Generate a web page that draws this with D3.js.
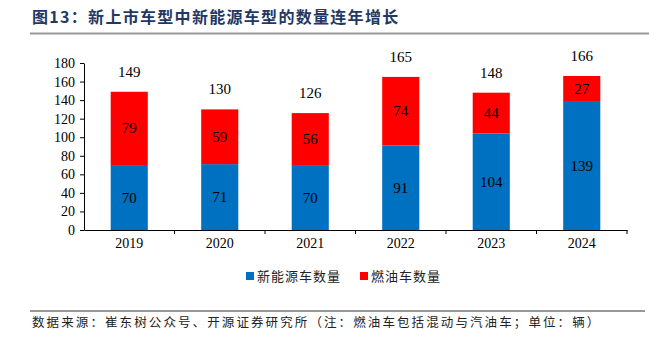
<!DOCTYPE html>
<html><head><meta charset="utf-8">
<script src="https://cdn.jsdelivr.net/npm/d3@7"></script>
<style>body{margin:0;background:#fff}</style>
</head><body><svg id="c" width="649" height="342"></svg>
<script>
const years = ["2019","2020","2021","2022","2023","2024"];
const nev = [70,71,70,91,104,139];
const ice = [79,59,56,74,44,27];
const totals = [149,130,126,165,148,166];
const yTicks = [0,20,40,60,80,100,120,140,160,180];
const seriesNames = ["新能源车数量","燃油车数量"];
const colors = ["#0070C0","#FF0000"];

const svg = d3.select("#c");
const serif = "'Liberation Serif','Times New Roman',serif";
const cjk = "'Noto Sans CJK SC',sans-serif";

// title
svg.append("text").attr("x",32).attr("y",23).attr("fill","#1F3864")
  .attr("font-family",cjk).attr("font-weight","bold").attr("font-size",16)
  .attr("letter-spacing",1.3)
  .text("图13：新上市车型中新能源车型的数量连年增长");
svg.append("line").attr("x1",30).attr("x2",649).attr("y1",33.5).attr("y2",33.5)
  .attr("stroke","#999").attr("stroke-width",2);

const x = d3.scaleBand().domain(years).range([84,627]).paddingInner(0.59).paddingOuter(0.295);
const y = d3.scaleLinear().domain([0,180]).range([230,63]);

const g = svg.append("g");
// y axis
const ya = g.append("g").attr("transform","translate(84,0)")
  .call(d3.axisLeft(y).tickValues(yTicks).tickSize(4).tickSizeOuter(0));
ya.select(".domain").attr("stroke","#000");
ya.selectAll("text").attr("font-family",serif).attr("font-size",14).attr("fill","#000").attr("dx",-2);

// bars
const stack = years.map((yr,i)=>({yr, a:nev[i], b:ice[i], t:totals[i]}));
g.selectAll(".nev").data(stack).enter().append("rect")
  .attr("x",d=>x(d.yr)).attr("width",x.bandwidth())
  .attr("y",d=>y(d.a)).attr("height",d=>y(0)-y(d.a)).attr("fill",colors[0]);
g.selectAll(".ice").data(stack).enter().append("rect")
  .attr("x",d=>x(d.yr)).attr("width",x.bandwidth())
  .attr("y",d=>y(d.a+d.b)).attr("height",d=>y(d.a)-y(d.a+d.b)).attr("fill",colors[1]);

// value labels
const lab = (sel)=>sel.attr("text-anchor","middle").attr("font-family",serif).attr("font-size",15).attr("fill","#000");
g.selectAll(".la").data(stack).enter().append("text").call(lab)
  .attr("x",d=>x(d.yr)+x.bandwidth()/2).attr("y",d=>(y(0)+y(d.a))/2+5).text(d=>d.a);
g.selectAll(".lb").data(stack).enter().append("text").call(lab)
  .attr("x",d=>x(d.yr)+x.bandwidth()/2).attr("y",d=>(y(d.a)+y(d.a+d.b))/2+5).text(d=>d.b);
g.selectAll(".lt").data(stack).enter().append("text").call(lab)
  .attr("x",d=>x(d.yr)+x.bandwidth()/2).attr("y",d=>y(d.t)-15).text(d=>d.t);

// x axis
const xa = g.append("g").attr("transform","translate(0,230)")
  .call(d3.axisBottom(x).tickSize(0));
xa.select(".domain").attr("stroke","#000");
xa.selectAll("text").attr("font-family",serif).attr("font-size",14).attr("fill","#000").attr("dy","1.1em");
// category separators
const step = x.step();
years.forEach((yr,i)=>{
  const px = 84 + step*(i+1);
  g.append("line").attr("x1",px).attr("x2",px).attr("y1",230).attr("y2",234).attr("stroke","#000");
});

// legend
const leg = svg.append("g");
const lx = [246,360];
seriesNames.forEach((n,i)=>{
  leg.append("rect").attr("x",lx[i]).attr("y",272).attr("width",8).attr("height",8).attr("fill",colors[i]);
  leg.append("text").attr("x",lx[i]+11).attr("y",281).attr("font-family",cjk).attr("font-size",13)
    .attr("letter-spacing",1).attr("fill","#222").text(n);
});

// footer
svg.append("line").attr("x1",30).attr("x2",645).attr("y1",311).attr("y2",311).attr("stroke","#333").attr("stroke-width",1);
svg.append("text").attr("x",32).attr("y",327).attr("font-family",cjk).attr("font-size",12.5).attr("fill","#222")
  .attr("letter-spacing",2.1)
  .text("数据来源：崔东树公众号、开源证券研究所（注：燃油车包括混动与汽油车；单位：辆）");
</script></body></html>
